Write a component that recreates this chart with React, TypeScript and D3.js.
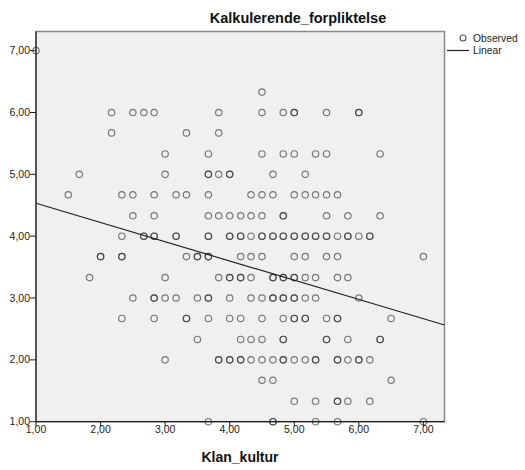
import React from "react";
import * as d3 from "d3";

const chartTitle = "Kalkulerende_forpliktelse";
const xTitle = "Klan_kultur";
const xTicks = [1, 2, 3, 4, 5, 6, 7];
const yTicks = [1, 2, 3, 4, 5, 6, 7];
const legendLabels = ["Observed", "Linear"];

// y levels of observed values and x values at each level (repeats = overlapping cases)
const yLevels = [7.0, 6.33, 6.0, 5.67, 5.33, 5.0, 4.67, 4.33, 4.0, 3.67, 3.33, 3.0, 2.67, 2.33, 2.0, 1.67, 1.33, 1.0];
const xByLevel: number[][] = [
  [1.0],
  [4.5],
  [2.17, 2.5, 2.67, 2.83, 3.83, 4.5, 4.83, 5.0, 5.0, 5.5, 6.0, 6.0],
  [2.17, 3.33, 3.83],
  [3.0, 3.67, 4.5, 4.83, 5.0, 5.33, 5.5, 6.33],
  [1.67, 3.0, 3.67, 3.67, 3.83, 4.0, 4.0, 4.67, 5.17],
  [1.5, 2.33, 2.5, 2.83, 3.17, 3.33, 3.67, 4.33, 4.5, 4.67, 5.0, 5.17, 5.33, 5.5, 5.67],
  [2.5, 2.83, 3.67, 3.83, 4.0, 4.17, 4.33, 4.5, 4.83, 4.83, 5.5, 5.83, 6.33],
  [2.33, 2.67, 2.67, 2.83, 2.83, 3.17, 3.17, 3.67, 3.67, 4.0, 4.0, 4.17, 4.17, 4.33, 4.5, 4.5, 4.67, 4.67, 4.83, 4.83, 5.0, 5.0, 5.17, 5.17, 5.33, 5.33, 5.5, 5.5, 5.67, 5.83, 5.83, 6.0, 6.17, 6.17],
  [2.0, 2.0, 2.33, 2.33, 3.33, 3.5, 3.5, 3.67, 3.67, 4.17, 4.33, 4.5, 5.0, 5.17, 5.5, 5.67, 7.0],
  [1.83, 3.0, 3.83, 4.0, 4.0, 4.17, 4.17, 4.33, 4.67, 4.67, 4.83, 4.83, 5.0, 5.0, 5.17, 5.33, 5.67, 5.83],
  [2.5, 2.83, 2.83, 3.0, 3.17, 3.5, 3.67, 3.67, 4.0, 4.33, 4.5, 4.67, 4.67, 4.83, 4.83, 5.0, 5.0, 5.17, 5.33, 6.0],
  [2.33, 2.83, 3.33, 3.33, 3.67, 4.0, 4.17, 4.5, 4.83, 5.0, 5.0, 5.17, 5.17, 5.5, 5.67, 5.67, 6.5],
  [3.5, 4.17, 4.33, 4.5, 4.83, 4.83, 5.5, 5.5, 5.83, 6.33, 6.33],
  [3.0, 3.83, 3.83, 4.0, 4.0, 4.17, 4.17, 4.33, 4.5, 4.67, 4.83, 4.83, 5.0, 5.17, 5.33, 5.33, 5.67, 5.67, 5.83, 6.0, 6.0, 6.17],
  [4.5, 4.67, 6.5],
  [5.0, 5.33, 5.67, 5.67, 5.83, 6.17],
  [3.67, 4.67, 4.67, 5.33, 5.67, 7.0],
];

const fitIntercept = 4.843;
const fitSlope = -0.311;

export default function App() {
  const W = 525, H = 470;
  const left = 36, right = 444.5, top = 31.5, bottom = 421.7;
  const x = d3.scaleLinear().domain([1, 7.327]).range([left, right]);
  const y = d3.scaleLinear().domain([1, 7.31]).range([bottom, top]);

  const points: { px: number; py: number }[] = [];
  yLevels.forEach((lv, i) => {
    xByLevel[i].forEach((xv) => points.push({ px: x(xv), py: y(lv) }));
  });

  const xd = x.domain();
  const line = d3.line<number>().x((d) => x(d)).y((d) => y(fitIntercept + fitSlope * d));
  const fmt = (v: number) => v.toFixed(2).replace(".", ",");
  const font = "'Liberation Sans', Arial, sans-serif";

  return (
    <svg width={W} height={H} style={{ position: "absolute", left: 0, top: 0, background: "#fff" }} fontFamily={font}>
      <rect x={left} y={top} width={right - left} height={bottom - top} fill="#f0f0f0" stroke="#8a8a8a" strokeWidth={1.5} />
      <text x={298} y={23} textAnchor="middle" fontSize={14.5} fontWeight="bold" fill="#111">{chartTitle}</text>
      {points.map((p, i) => (
        <circle key={i} cx={p.px} cy={p.py} r={3.2} fill="none" stroke="#222" strokeOpacity={0.58} strokeWidth={1.2} />
      ))}
      <path d={line([xd[0], xd[1]]) || ""} fill="none" stroke="#222" strokeWidth={1.2} />
      <line x1={left} x2={left} y1={top} y2={bottom} stroke="#222" strokeWidth={1.2} />
      <line x1={left} x2={right} y1={bottom} y2={bottom} stroke="#222" strokeWidth={1.2} />
      {xTicks.map((t) => (
        <g key={"x" + t}>
          <line x1={x(t)} x2={x(t)} y1={bottom} y2={bottom + 5} stroke="#222" />
          <text x={x(t)} y={bottom + 11} textAnchor="middle" fontSize={10.5} fill="#222">{fmt(t)}</text>
        </g>
      ))}
      {yTicks.map((t) => (
        <g key={"y" + t}>
          <line x1={left - 6} x2={left} y1={y(t)} y2={y(t)} stroke="#222" />
          <text x={left - 6} y={y(t) + 3.5} textAnchor="end" fontSize={10.5} fill="#222">{fmt(t)}</text>
        </g>
      ))}
      <text x={240} y={462} textAnchor="middle" fontSize={14} fontWeight="bold" fill="#111">{xTitle}</text>
      <circle cx={463} cy={38} r={3} fill="none" stroke="#555" strokeWidth={1.1} />
      <text x={473} y={41.5} fontSize={10.3} fill="#222">{legendLabels[0]}</text>
      <line x1={447} x2={469} y1={50.5} y2={50.5} stroke="#222" strokeWidth={1.2} />
      <text x={473} y={54} fontSize={10.3} fill="#222">{legendLabels[1]}</text>
    </svg>
  );
}
